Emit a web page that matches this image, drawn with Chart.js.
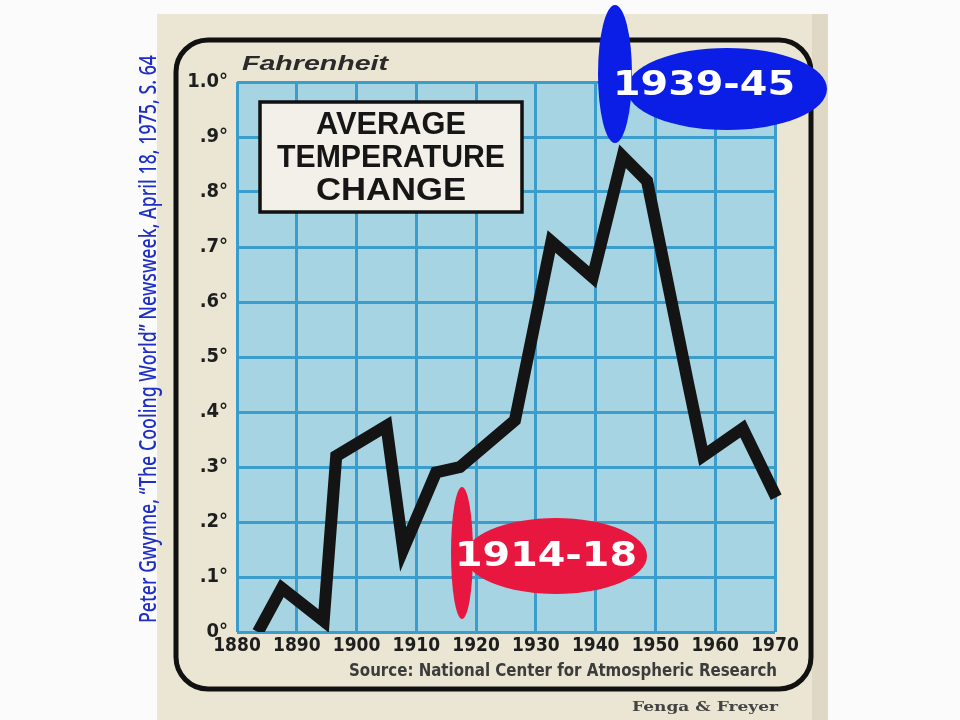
<!DOCTYPE html>
<html>
<head>
<meta charset="utf-8">
<script src="https://cdn.jsdelivr.net/npm/chart.js@4"></script>
<style>
html,body{margin:0;padding:0;background:#fbfbfb;}
canvas{display:block;}
</style>
</head>
<body>
<canvas id="c" width="960" height="720"></canvas>
<script>
// ---- data ----
const years  = [1883.5, 1887.5, 1894.5, 1896.6, 1905.0, 1907.8, 1913.3, 1917.3, 1926.5, 1932.6, 1939.5, 1944.5, 1948.6, 1955.5, 1958.0, 1964.6, 1970.2];
const values = [0.00,   0.08,   0.02,   0.32,   0.375,  0.15,   0.29,   0.30,   0.385,  0.71,   0.645,  0.865,  0.82,   0.45,   0.32,   0.37,   0.245];
const xTickLabels = ['1880','1890','1900','1910','1920','1930','1940','1950','1960','1970'];
const yTickLabels = ['0°','.1°','.2°','.3°','.4°','.5°','.6°','.7°','.8°','.9°','1.0°'];
const titleLines = ['AVERAGE','TEMPERATURE','CHANGE'];
const unitLabel = 'Fahrenheit';
const sourceText = 'Source: National Center for Atmospheric Research';
const creditText = 'Fenga & Freyer';
const citation = 'Peter Gwynne, \u201CThe Cooling World\u201D Newsweek, April 18, 1975, S. 64';
const warLabels = ['1914-18','1939-45'];

const COND = "'DejaVu Sans Condensed', 'Liberation Sans Narrow', sans-serif";

function fitText(ctx, text, x, y, width, font, color, align) {
  ctx.save();
  ctx.font = font;
  ctx.fillStyle = color;
  ctx.textBaseline = 'middle';
  const w = ctx.measureText(text).width;
  const s = width / w;
  ctx.translate(x, y);
  ctx.scale(s, 1);
  ctx.textAlign = align || 'center';
  ctx.fillText(text, 0, 0);
  ctx.restore();
}

const decor = {
  id: 'decor',
  beforeDraw(chart) {
    const ctx = chart.ctx, a = chart.chartArea;
    ctx.save();
    ctx.fillStyle = '#fbfbfb';
    ctx.fillRect(0, 0, 960, 720);
    // paper
    ctx.fillStyle = '#ebe6d3';
    ctx.fillRect(157, 14, 671, 706);
    ctx.fillStyle = '#ded8c5';
    ctx.fillRect(812, 14, 16, 706);
    // rounded frame
    ctx.strokeStyle = '#111';
    ctx.lineWidth = 5;
    ctx.beginPath();
    ctx.roundRect(176, 40, 635, 649, 32);
    ctx.stroke();
    // plot background
    ctx.fillStyle = '#a6d4e2';
    ctx.fillRect(a.left, a.top, a.right - a.left, a.bottom - a.top);
    ctx.restore();
  },
  afterDraw(chart) {
    const ctx = chart.ctx;
    ctx.save();
    // title box
    ctx.fillStyle = '#f2f0e8';
    ctx.fillRect(260, 102, 262, 110);
    ctx.strokeStyle = '#111';
    ctx.lineWidth = 3.5;
    ctx.strokeRect(260, 102, 262, 110);
    const ty = [125, 158, 191];
    const tw = [150, 228, 150];
    titleLines.forEach((t, i) => fitText(ctx, t, 391, ty[i], tw[i], "bold 32px 'Liberation Sans', Arial, sans-serif", '#161616'));
    // unit
    fitText(ctx, unitLabel, 242, 64, 146, "italic bold 21px 'Liberation Sans', Arial, sans-serif", '#2a2a2a', 'left');
    // source + credit
    fitText(ctx, sourceText, 349, 672, 428, "bold 17px " + COND, '#3c3c3c', 'left');
    fitText(ctx, creditText, 632, 708, 146, "bold 13px 'DejaVu Serif', serif", '#444', 'left');
    // citation (vertical)
    ctx.save();
    ctx.translate(149, 339);
    ctx.rotate(-Math.PI / 2);
    fitText(ctx, citation, 0, 0, 568, "500 23px 'Noto Sans', sans-serif", '#1f2fc4');
    ctx.restore();
    // red ellipses
    ctx.fillStyle = '#e8173f';
    ctx.beginPath(); ctx.ellipse(462, 553, 11, 66, 0, 0, Math.PI * 2); ctx.fill();
    ctx.beginPath(); ctx.ellipse(556, 556, 91, 38, 0, 0, Math.PI * 2); ctx.fill();
    fitText(ctx, warLabels[0], 546, 557, 182, "bold 33px 'DejaVu Sans', Verdana, sans-serif", '#ffffff');
    // blue ellipses
    ctx.fillStyle = '#0a1ee6';
    ctx.beginPath(); ctx.ellipse(615, 74, 17, 69, 0, 0, Math.PI * 2); ctx.fill();
    ctx.beginPath(); ctx.ellipse(727, 89, 100, 41, 0, 0, Math.PI * 2); ctx.fill();
    fitText(ctx, warLabels[1], 704, 86, 182, "bold 34px 'DejaVu Sans', Verdana, sans-serif", '#ffffff');
    ctx.restore();
  }
};

new Chart(document.getElementById('c'), {
  type: 'line',
  data: {
    datasets: [{
      data: years.map((x, i) => ({ x: x, y: values[i] })),
      borderColor: '#141414',
      borderWidth: 12,
      borderJoinStyle: 'miter',
      borderCapStyle: 'butt',
      pointRadius: 0,
      tension: 0,
      fill: false,
      clip: { left: 6, top: 6, right: 10, bottom: 0 }
    }]
  },
  options: {
    responsive: false,
    animation: false,
    devicePixelRatio: 1,
    layout: { padding: { left: 0, top: 82, right: 185, bottom: 0 } },
    plugins: { legend: { display: false }, tooltip: { enabled: false } },
    scales: {
      x: {
        type: 'linear',
        min: 1880, max: 1970,
        afterFit(s) { s.height = 88; },
        ticks: {
          stepSize: 10,
          padding: 3,
          color: '#1e1e1e',
          font: { family: COND, weight: 'bold', size: 19 },
          maxRotation: 0,
          callback: (v) => xTickLabels[Math.round((v - 1880) / 10)]
        },
        grid: { color: '#3a9dcc', lineWidth: 3, drawTicks: false },
        border: { display: false }
      },
      y: {
        min: 0, max: 1,
        afterFit(s) { s.width = 237; },
        ticks: {
          stepSize: 0.1,
          padding: 9,
          color: '#1e1e1e',
          font: { family: COND, weight: 'bold', size: 20 },
          callback: (v) => yTickLabels[Math.round(v * 10)]
        },
        grid: { color: '#3a9dcc', lineWidth: 3, drawTicks: false },
        border: { display: false }
      }
    }
  },
  plugins: [decor]
});
</script>
</body>
</html>
